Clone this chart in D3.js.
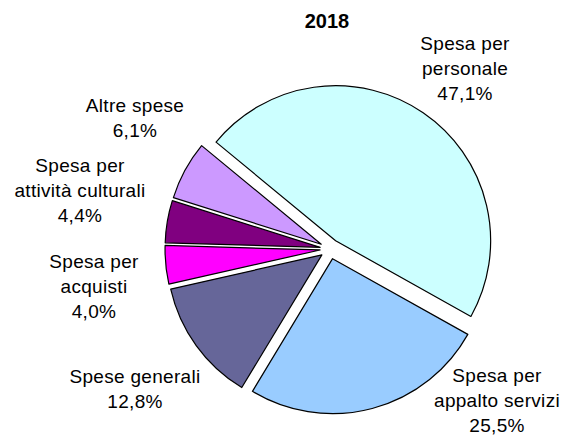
<!DOCTYPE html>
<html>
<head>
<meta charset="utf-8">
<script src="https://cdn.jsdelivr.net/npm/d3@7"></script>
<style>
  html, body { margin: 0; padding: 0; background: #fff; }
  svg { display: block; }
  text { font-family: "Liberation Sans", Arial, sans-serif; fill: #000; }
</style>
</head>
<body>
<svg id="chart" width="571" height="437"></svg>
<script>
const title = "2018";
const categories = ["Spesa per personale", "Spesa per appalto servizi", "Spese generali",
                    "Spesa per acquisti", "Spesa per attività culturali", "Altre spese"];
const values = [47.1, 25.5, 12.8, 4.0, 4.4, 6.1];
const valueLabels = ["47,1%", "25,5%", "12,8%", "4,0%", "4,4%", "6,1%"];
const labelLines = [["Spesa per", "personale"], ["Spesa per", "appalto servizi"], ["Spese generali"],
                    ["Spesa per", "acquisti"], ["Spesa per", "attività culturali"], ["Altre spese"]];
const colors = ["#CCFFFF", "#99CCFF", "#666699", "#FF00FF", "#800080", "#CC99FF"];

const svg = d3.select("#chart");
const W = 571, H = 437;
const cx = 330, cy = 249, R = 155, explode = 10;
const startDeg = -50.5;

svg.append("text").attr("x", 327).attr("y", 28).attr("text-anchor", "middle")
  .style("font-weight", "bold").style("font-size", "20px").text(title);

const data = categories.map((c, i) => ({ cat: c, value: values[i], i }));
const pie = d3.pie().value(d => d.value).sort(null)
  .startAngle(startDeg * Math.PI / 180)
  .endAngle(startDeg * Math.PI / 180 + 2 * Math.PI);
const arcs = pie(data);
const arc = d3.arc().innerRadius(0).outerRadius(R);

const g = svg.append("g").attr("transform", `translate(${cx},${cy})`);
g.selectAll("path").data(arcs).join("path")
  .attr("d", arc)
  .attr("transform", d => {
    const m = (d.startAngle + d.endAngle) / 2;
    return `translate(${explode * Math.sin(m)},${-explode * Math.cos(m)})`;
  })
  .attr("fill", d => colors[d.data.i])
  .attr("stroke", "#000").attr("stroke-width", 1.2).attr("stroke-linejoin", "round");

// label anchor positions (centre x, first baseline y)
const labelPos = [[465, 50], [497, 382], [135, 383], [94, 268], [80, 172], [135, 112]];
const lh = 25;
data.forEach((d, i) => {
  const lines = labelLines[i].concat([valueLabels[i]]);
  const t = svg.append("text").attr("text-anchor", "middle")
    .style("font-size", "19px").style("letter-spacing", "0.3px");
  lines.forEach((ln, k) => {
    t.append("tspan").attr("x", labelPos[i][0]).attr("y", labelPos[i][1] + k * lh).text(ln);
  });
});
</script>
</body>
</html>
